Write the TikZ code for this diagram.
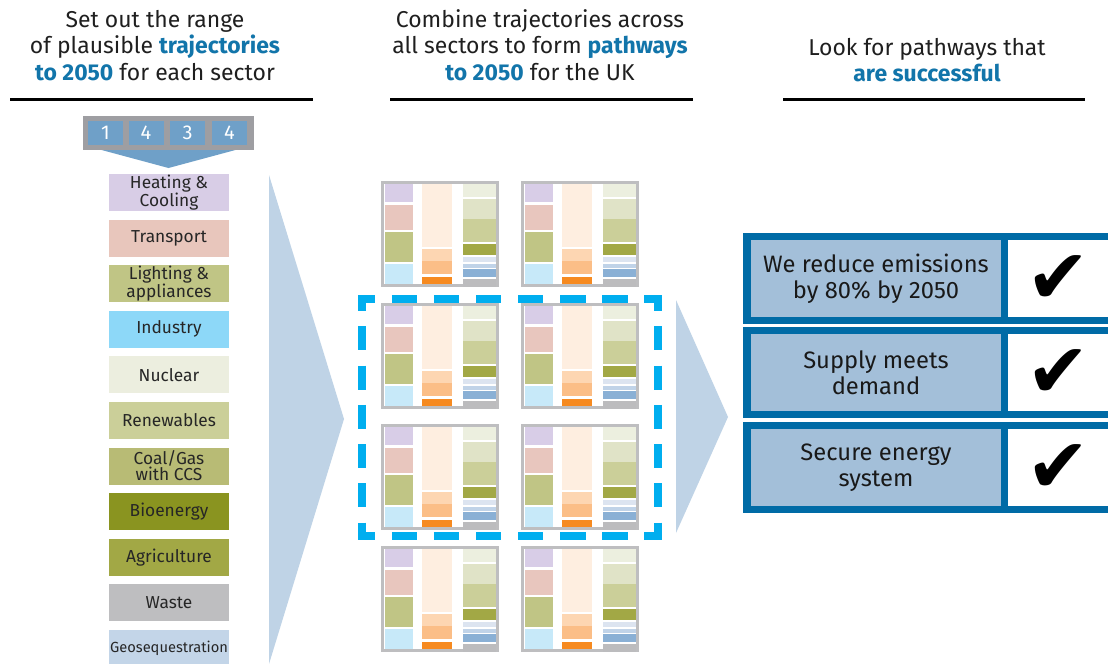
\documentclass[tikz,border=0pt]{standalone}
\usepackage{fontspec}
\setmainfont{Fira Sans}
\newfontfamily\symfont{DejaVu Sans}
\definecolor{hlblue}{RGB}{18,117,170}
\definecolor{numblue}{RGB}{111,160,200}
\definecolor{numgray}{RGB}{158,158,162}
\definecolor{paleblue}{RGB}{191,211,230}
\definecolor{dkblue}{RGB}{0,107,166}
\definecolor{boxblue}{RGB}{163,191,217}
\definecolor{dashcyan}{RGB}{0,174,239}
\definecolor{framegray}{RGB}{190,190,192}
\definecolor{sHeat}{RGB}{216,205,230}
\definecolor{sTrans}{RGB}{232,198,188}
\definecolor{sLight}{RGB}{192,197,133}
\definecolor{sInd}{RGB}{141,216,248}
\definecolor{sNuc}{RGB}{236,238,223}
\definecolor{sRen}{RGB}{203,207,153}
\definecolor{sCoal}{RGB}{184,187,117}
\definecolor{sBio}{RGB}{138,148,32}
\definecolor{sAgr}{RGB}{162,168,69}
\definecolor{sWaste}{RGB}{190,190,192}
\definecolor{sGeo}{RGB}{195,213,232}
\definecolor{cA}{RGB}{216,205,231}
\definecolor{cB}{RGB}{232,198,190}
\definecolor{cC}{RGB}{192,197,133}
\definecolor{cD}{RGB}{199,233,249}
\definecolor{cE}{RGB}{254,238,224}
\definecolor{cF}{RGB}{253,214,178}
\definecolor{cG}{RGB}{251,190,135}
\definecolor{cH}{RGB}{246,138,32}
\definecolor{cI}{RGB}{236,239,223}
\definecolor{cJ}{RGB}{224,227,199}
\definecolor{cK}{RGB}{203,207,153}
\definecolor{cL}{RGB}{162,168,69}
\definecolor{cM}{RGB}{220,228,240}
\definecolor{cN}{RGB}{192,211,232}
\definecolor{cO}{RGB}{138,176,213}
\definecolor{cP}{RGB}{188,188,190}
\newcommand\hlt[1]{{\color{hlblue}\bfseries #1}}
\begin{document}
\begin{tikzpicture}[x=0.75pt,y=-0.75pt,
  hdr/.style={anchor=base,inner sep=0,font=\fontsize{17.2}{19}\selectfont,text=black!88},
  rule/.style={line width=2.25pt,black},
  sector/.style={minimum width=90pt,minimum height=27.75pt,inner sep=0,align=center,
    font=\fontsize{13}{12}\selectfont,text=black!85},
  numbox/.style={fill=numblue,minimum width=26.25pt,minimum height=18pt,inner sep=0,
    text=white,font=\fontsize{15}{15}\selectfont},
  critbox/.style={fill=boxblue,minimum width=187.5pt,minimum height=57.75pt,inner sep=0,
    align=center,font=\fontsize{17.8}{19.5}\selectfont,text=black!90},
  checkbox/.style={inner sep=0,font=\symfont\fontsize{57}{57}\selectfont},
  dashH/.style={dashcyan,line width=6pt,dash pattern=on 18.975pt off 12.6pt,dash phase=6.225pt},
  dashV/.style={dashcyan,line width=6pt,dash pattern=on 18pt off 11.44pt,dash phase=6pt}]
\useasboundingbox (0,0) rectangle (1108,664);
\fill[white] (0,0) rectangle (1108,664);

% headers
\node[hdr] (h1a) at (155,27) {Set out the range};
\node[hdr] (h1b) at (155,53.5) {of plausible \hlt{trajectories}};
\node[hdr] (h1c) at (155,80) {\hlt{to 2050} for each sector};
\node[hdr] (h2a) at (540,27) {Combine trajectories across};
\node[hdr] (h2b) at (540,53.5) {all sectors to form \hlt{pathways}};
\node[hdr] (h2c) at (540,80) {\hlt{to 2050} for the UK};
\node[hdr] (h3a) at (927,55) {Look for pathways that};
\node[hdr] (h3b) at (927,81.5) {\hlt{are successful}};
\draw[rule] (10,99) -- (313,99);
\draw[rule] (390,99) -- (693,99);
\draw[rule] (783,99) -- (1085,99);

% big pale arrows
\fill[paleblue] (269,175) -- (344,419) -- (269,664) -- cycle;
\fill[paleblue] (676,300) -- (728,417) -- (676,533) -- cycle;

% number selector
\fill[numblue] (83,145) -- (254,145) -- (168.5,168) -- cycle;
\fill[numgray] (83,116) rectangle (254,150);
\node[numbox] (n1) at (105.5,133) {1};
\node[numbox] (n2) at (146,133) {4};
\node[numbox] (n3) at (187.5,133) {3};
\node[numbox] (n4) at (229.5,133) {4};

% sectors
\node[sector,fill=sHeat]  (s1)  at (169,192.5) {Heating \&\\Cooling};
\node[sector,fill=sTrans] (s2)  at (169,238.1) {Transport};
\node[sector,fill=sLight] (s3)  at (169,283.7) {Lighting \&\\appliances};
\node[sector,fill=sInd]   (s4)  at (169,329.3) {Industry};
\node[sector,fill=sNuc]   (s5)  at (169,374.9) {Nuclear};
\node[sector,fill=sRen]   (s6)  at (169,420.5) {Renewables};
\node[sector,fill=sCoal]  (s7)  at (169,466.1) {Coal/Gas\\with CCS};
\node[sector,fill=sBio]   (s8)  at (169,511.7) {Bioenergy};
\node[sector,fill=sAgr]   (s9)  at (169,557.3) {Agriculture};
\node[sector,fill=sWaste] (s10) at (169,602.9) {Waste};
\node[sector,fill=sGeo,font=\fontsize{11}{11}\selectfont] (s11) at (169,648.5) {Geosequestration};

% mini charts
\foreach \cx in {381,521}{
 \foreach \cy in {181,303,424,546}{
  \begin{scope}[shift={(\cx,\cy)}]
   \fill[framegray] (0,0) rectangle (118,106);
   \fill[white] (3,3) rectangle (115,103);
   \fill[cA] (4,3) rectangle (32,21);
   \fill[cB] (4,24) rectangle (32,49);
   \fill[cC] (4,51) rectangle (32,81);
   \fill[cD] (4,83) rectangle (32,103);
   \fill[cE] (41,3) rectangle (71,66);
   \fill[cF] (41,68) rectangle (71,80);
   \fill[cG] (41,80) rectangle (71,93);
   \fill[cH] (41,96) rectangle (71,103);
   \fill[cI] (82,3) rectangle (115,16);
   \fill[cJ] (82,18) rectangle (115,38);
   \fill[cK] (82,38) rectangle (115,61);
   \fill[cL] (82,63) rectangle (115,74);
   \fill[cM] (82,76) rectangle (115,81);
   \fill[cN] (82,83) rectangle (115,87);
   \fill[cO] (82,88) rectangle (115,96);
   \fill[cP] (82,98) rectangle (115,106);
  \end{scope}
 }
}

% dashed selection
\draw[dashH] (358,299) -- (662,299);
\draw[dashH] (358,536) -- (662,536);
\draw[dashV] (362,295) -- (362,539);
\draw[dashV] (658,295) -- (658,539);

% criteria
\foreach \t/\nm/\txt in {233/c1/{We reduce emissions\\by 80\% by 2050},
                         327/c2/{Supply meets\\demand},
                         422/c3/{Secure energy\\system}}{
  \fill[dkblue] (743,\t) rectangle (1120,\t+91);
  \fill[white] (1008,\t+7) rectangle (1120,\t+84);
  \node[critbox] (\nm) at (876,\t+45.5) {\txt};
  \node[checkbox] (\nm k) at (1058,\t+47) {✔};
}
\end{tikzpicture}
\end{document}
